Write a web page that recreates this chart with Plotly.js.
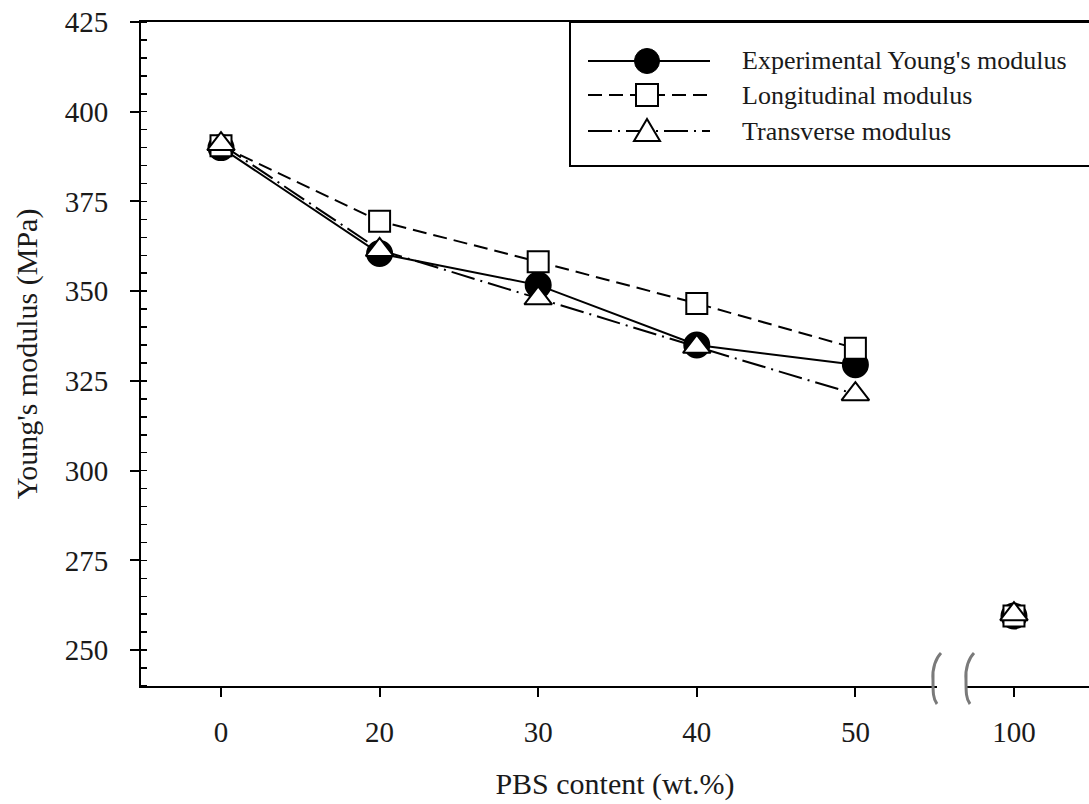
<!DOCTYPE html>
<html><head><meta charset="utf-8">
<script src="https://cdn.plot.ly/plotly-3.0.1.min.js"></script>
<style>html,body{margin:0;padding:0;background:#fff}#chart{width:1089px;height:804px}</style>
</head><body><div id="chart"></div>
<script>
// ---- data ----
const categories = ['0', '20', '30', '40', '50', '100'];
const experimental = [390, 360.5, 351.7, 335, 329.5, 259.5];
const longitudinal = [390.5, 369.5, 358.2, 346.6, 334.1, 259.5];
const transverse = [391, 361.5, 348, 334.5, 321.3, 260];
const seriesNames = ["Experimental Young's modulus", "Longitudinal modulus", "Transverse modulus"];
const xTitle = 'PBS content (wt.%)';
const yTitle = "Young's modulus (MPa)";
const yTicks = [250, 275, 300, 325, 350, 375, 400, 425];

// ---- layout helpers (pixel -> paper) ----
const L = 141, R = 1089, T = 22, B = 686;
const fx = px => (px - L) / (R - L);
const fy = py => (B - py) / (B - T);
const FONT = 'Liberation Serif';
const INK = '#1a1a1a';

const styles = [
  {dash: 'solid', marker: {symbol: 'circle', size: 25, color: '#000', line: {color: '#000', width: 2}}},
  {dash: '14px,7px', marker: {symbol: 'square', size: 21, color: '#fff', line: {color: '#000', width: 2}}},
  {dash: '24px,6px,2px,6px', marker: {symbol: 'triangle-up', size: 24, color: '#fff', line: {color: '#000', width: 2}}}
];
const seriesVals = [experimental, longitudinal, transverse];

const traces = [];
seriesVals.forEach((vals, i) => {
  const n = categories.length - 1;
  traces.push({
    x: categories.slice(0, n), y: vals.slice(0, n), type: 'scatter', mode: 'lines+markers',
    name: seriesNames[i], showlegend: false,
    line: {color: '#000', width: 2, dash: styles[i].dash},
    marker: styles[i].marker, cliponaxis: false
  });
  traces.push({
    x: categories.slice(n), y: vals.slice(n), type: 'scatter', mode: 'markers',
    name: seriesNames[i], showlegend: false, marker: styles[i].marker, cliponaxis: false
  });
});

// ---- custom legend ----
const rows = [61, 95, 131];
const lx0 = 588, lx1 = 710, mx = 647, tx = 740;
const shapes = [
  {type: 'rect', xref: 'paper', yref: 'paper', x0: fx(570), x1: fx(1110), y0: fy(166), y1: fy(22),
   line: {color: '#000', width: 2}, fillcolor: 'rgba(255,255,255,0)'},
  {type: 'line', xref: 'paper', yref: 'paper', x0: fx(132), x1: fx(142), y0: 1, y1: 1,
   line: {color: '#000', width: 2}}
];
rows.forEach((ry, i) => {
  shapes.push({type: 'line', xref: 'paper', yref: 'paper', x0: fx(lx0), x1: fx(lx1), y0: fy(ry), y1: fy(ry),
    line: {color: '#000', width: 2, dash: styles[i].dash}});
});
shapes.push({type: 'circle', xref: 'paper', yref: 'paper', x0: fx(mx - 12.5), x1: fx(mx + 12.5),
  y0: fy(rows[0] + 12.5), y1: fy(rows[0] - 12.5), fillcolor: '#000', line: {color: '#000', width: 1}});
shapes.push({type: 'rect', xref: 'paper', yref: 'paper', x0: fx(mx - 11), x1: fx(mx + 11),
  y0: fy(rows[1] + 11), y1: fy(rows[1] - 11), fillcolor: '#fff', line: {color: '#000', width: 2}});
const tri = [[mx - 13, rows[2] + 10], [mx + 13, rows[2] + 10], [mx, rows[2] - 12]];
shapes.push({type: 'path', xref: 'paper', yref: 'paper',
  path: 'M' + tri.map(p => fx(p[0]) + ',' + fy(p[1])).join(' L') + ' Z',
  fillcolor: '#fff', line: {color: '#000', width: 2}});

// ---- axis break ----
shapes.push({type: 'rect', xref: 'paper', yref: 'paper', x0: fx(937), x1: fx(965), y0: fy(690), y1: fy(682),
  fillcolor: '#fff', line: {width: 0}, layer: 'above'});
const sq = (dx) => 'M' + fx(941 + dx) + ',' + fy(653) +
  ' C' + fx(936 + dx) + ',' + fy(658) + ' ' + fx(932 + dx) + ',' + fy(668) + ' ' + fx(933 + dx) + ',' + fy(680) +
  ' C' + fx(933 + dx) + ',' + fy(692) + ' ' + fx(933 + dx) + ',' + fy(699) + ' ' + fx(937 + dx) + ',' + fy(704);
[0, 33].forEach(dx => shapes.push({type: 'path', xref: 'paper', yref: 'paper', path: sq(dx),
  line: {color: '#7a7a7a', width: 3}}));

const annotations = rows.map((ry, i) => ({
  xref: 'paper', yref: 'paper', x: fx(tx), y: fy(ry), xanchor: 'left', yanchor: 'middle',
  text: seriesNames[i], showarrow: false, font: {family: FONT, size: 26, color: INK}
}));

const layout = {
  width: 1089, height: 804,
  margin: {l: L, r: 1089 - R, t: T, b: 804 - B},
  paper_bgcolor: '#fff', plot_bgcolor: '#fff',
  showlegend: false,
  font: {family: FONT, color: INK},
  xaxis: {
    type: 'category', categoryorder: 'array', categoryarray: categories,
    range: [-0.5044, 5.473], showgrid: false, zeroline: false,
    showline: true, linecolor: '#000', linewidth: 2, mirror: true,
    ticks: 'outside', ticklen: 9, tickwidth: 2, tickcolor: '#000',
    ticklabelstandoff: 10,
    tickfont: {family: FONT, size: 29, color: INK},
    title: {text: xTitle, font: {family: FONT, size: 30, color: INK}, standoff: 26}
  },
  yaxis: {
    range: [240, 425], tickvals: yTicks, showgrid: false, zeroline: false,
    showline: true, linecolor: '#000', linewidth: 2,
    ticks: 'outside', ticklen: 9, tickwidth: 2, tickcolor: '#000',
    ticklabelstandoff: 16,
    minor: {dtick: 5, tick0: 0, ticks: 'inside', ticklen: 6, tickwidth: 1.5, tickcolor: '#000', showgrid: false},
    tickfont: {family: FONT, size: 29, color: INK},
    title: {text: yTitle, font: {family: FONT, size: 30, color: INK}, standoff: 18}
  },
  shapes: shapes,
  annotations: annotations
};

Plotly.newPlot('chart', traces, layout, {displayModeBar: false, staticPlot: true});
</script>
</body></html>
